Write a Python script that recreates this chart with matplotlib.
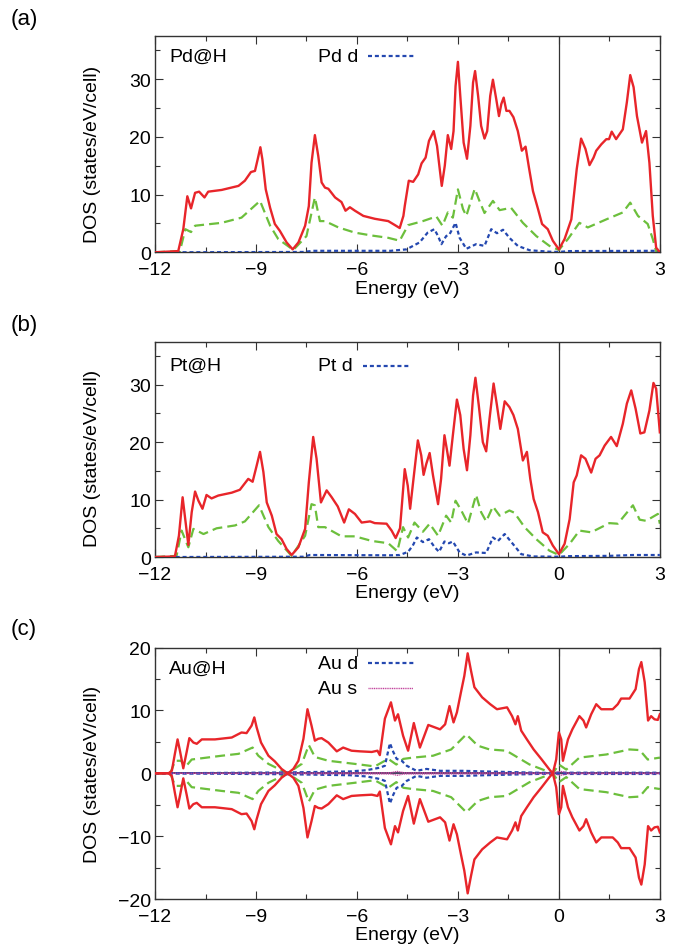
import numpy as np
import matplotlib.pyplot as plt
from matplotlib.ticker import MultipleLocator

plt.rcParams['font.family'] = ['Liberation Sans', 'DejaVu Sans']

# each array: rows of (energy eV, DOS)

# ---- (a) Pd@H ----
pd_tot = np.array([
    [-12, 0], [-11.31, 0.2], [-11.16, 4.0], [-11.04, 9.7], [-10.93, 7.6], [-10.81, 10.3],
    [-10.69, 10.5], [-10.53, 9.5], [-10.42, 10.5], [-10.02, 10.8], [-9.52, 11.5], [-9.33, 12.4],
    [-9.15, 13.9], [-9.03, 14.1], [-8.95, 16.1], [-8.87, 18.2], [-8.81, 16.1], [-8.71, 10.9],
    [-8.58, 7.7], [-8.44, 4.9], [-8.29, 3.7], [-8.09, 1.7], [-7.91, 0.5], [-7.74, 1.7],
    [-7.54, 4.6], [-7.43, 8.0], [-7.35, 15.5], [-7.25, 20.3], [-7.15, 16.7], [-7.05, 12.1],
    [-6.95, 11.2], [-6.85, 11.0], [-6.65, 9.5], [-6.46, 8.7], [-6.34, 7.2], [-6.21, 7.8],
    [-6.06, 7.2], [-5.81, 6.3], [-5.47, 5.8], [-5.07, 5.4], [-4.87, 4.7], [-4.73, 4.2],
    [-4.62, 6.3], [-4.58, 8.0], [-4.46, 12.4], [-4.33, 12.2], [-4.18, 13.5], [-4.08, 15.4],
    [-3.96, 16.4], [-3.86, 19.3], [-3.72, 21.0], [-3.62, 18.4], [-3.54, 14.4], [-3.48, 11.5],
    [-3.39, 15.0], [-3.30, 20.3], [-3.20, 17.9], [-3.13, 21.0], [-3.07, 28.8], [-3.0, 33.0],
    [-2.93, 27.1], [-2.83, 19.0], [-2.73, 16.2], [-2.63, 21.9], [-2.55, 29.4], [-2.49, 31.4],
    [-2.40, 27.1], [-2.31, 21.9], [-2.21, 19.7], [-2.13, 21.0], [-2.04, 27.1], [-1.96, 29.9],
    [-1.86, 26.5], [-1.78, 23.6], [-1.71, 25.7], [-1.64, 26.8], [-1.56, 24.5], [-1.47, 24.5],
    [-1.35, 23.4], [-1.22, 21.0], [-1.10, 17.6], [-0.99, 18.3], [-0.89, 14.7], [-0.77, 10.6],
    [-0.62, 7.5], [-0.50, 4.9], [-0.33, 4.0], [-0.18, 2.0], [0.0, 0.5], [0.17, 2.3],
    [0.37, 5.7], [0.53, 14.4], [0.66, 19.7], [0.79, 17.9], [0.91, 15.1], [1.03, 16.4],
    [1.11, 17.6], [1.26, 18.7], [1.41, 19.6], [1.49, 19.6], [1.57, 20.9], [1.70, 19.6],
    [1.90, 21.3], [2.02, 26.0], [2.12, 30.7], [2.22, 28.6], [2.32, 23.6], [2.47, 19.0],
    [2.59, 21.0], [2.69, 15.5], [2.79, 6.3], [2.89, 0.8], [3.0, 0]])

pd_h = np.array([
    [-12, 0], [-11.26, 0.2], [-11.1, 4.0], [-10.93, 3.5], [-10.81, 4.6], [-10.02, 5.1],
    [-9.43, 6.0], [-8.88, 8.9], [-8.58, 4.6], [-8.34, 2.3], [-7.89, 0.4], [-7.5, 2.8],
    [-7.25, 9.5], [-7.10, 5.4], [-6.95, 5.4], [-6.55, 4.3], [-6.06, 3.4], [-5.56, 2.9],
    [-5.07, 2.5], [-4.73, 2.0], [-4.48, 4.7], [-4.04, 5.4], [-3.64, 6.2], [-3.46, 4.6],
    [-3.30, 6.9], [-3.15, 6.0], [-3.0, 10.9], [-2.85, 7.5], [-2.75, 6.3], [-2.50, 11.0],
    [-2.36, 8.9], [-2.21, 6.8], [-1.96, 8.9], [-1.76, 7.3], [-1.42, 7.7], [-1.07, 5.1],
    [-0.67, 2.8], [-0.28, 1.1], [0.0, 0.4], [0.27, 2.3], [0.61, 5.1], [0.86, 4.3],
    [1.41, 5.7], [1.90, 6.9], [2.12, 8.6], [2.35, 6.3], [2.64, 4.9], [2.79, 2.3],
    [2.89, 0.2], [3.0, 0]])

pd_d = np.array([
    [-12, 0], [-11.3, 0], [-7.6, 0.05], [-7.3, 0.25], [-5.0, 0.25], [-4.53, 0.5],
    [-4.14, 1.7], [-3.90, 3.4], [-3.70, 4.0], [-3.59, 2.8], [-3.49, 1.4], [-3.35, 2.8],
    [-3.25, 3.1], [-3.07, 5.1], [-2.95, 2.5], [-2.75, 0.6], [-2.46, 1.4], [-2.21, 1.1],
    [-2.01, 4.0], [-1.84, 3.3], [-1.66, 3.9], [-1.47, 2.5], [-1.22, 1.1], [-0.87, 0.35],
    [-0.3, 0.1], [0.0, 0.05], [0.3, 0.2], [2.9, 0.25], [3.0, 0.1]])

# ---- (b) Pt@H ----
pt_tot = np.array([
    [-12, 0], [-11.41, 0.1], [-11.29, 3.7], [-11.18, 10.4], [-11.09, 6.0], [-11.01, 2.1],
    [-10.91, 7.8], [-10.81, 11.4], [-10.71, 9.8], [-10.59, 8.4], [-10.47, 10.8], [-10.32, 10.2],
    [-10.12, 10.7], [-9.72, 11.2], [-9.48, 11.7], [-9.23, 13.6], [-9.10, 13.1], [-8.98, 15.9],
    [-8.88, 18.3], [-8.78, 14.8], [-8.68, 9.5], [-8.53, 7.2], [-8.39, 4.0], [-8.24, 3.1],
    [-8.09, 1.4], [-7.94, 0.35], [-7.74, 1.7], [-7.54, 4.9], [-7.43, 13.0], [-7.30, 20.9],
    [-7.20, 17.1], [-7.07, 9.5], [-6.90, 11.6], [-6.75, 10.4], [-6.57, 8.8], [-6.38, 6.0],
    [-6.24, 8.3], [-6.06, 7.5], [-5.86, 6.0], [-5.61, 6.2], [-5.47, 5.9], [-5.12, 5.8],
    [-4.97, 4.6], [-4.85, 3.3], [-4.72, 5.0], [-4.58, 15.3], [-4.49, 12.4], [-4.42, 8.4],
    [-4.32, 13.6], [-4.19, 20.3], [-4.09, 17.7], [-4.02, 14.3], [-3.94, 16.2], [-3.84, 18.1],
    [-3.74, 14.2], [-3.59, 9.2], [-3.50, 13.6], [-3.40, 21.2], [-3.33, 18.8], [-3.25, 15.9],
    [-3.15, 21.2], [-3.03, 27.4], [-2.93, 24.7], [-2.83, 18.8], [-2.73, 15.1], [-2.63, 21.2],
    [-2.55, 28.1], [-2.48, 31.2], [-2.38, 26.4], [-2.26, 20.0], [-2.16, 18.4], [-2.06, 24.1],
    [-1.94, 30.2], [-1.84, 26.4], [-1.74, 22.3], [-1.61, 27.1], [-1.47, 26.1], [-1.35, 24.7],
    [-1.22, 22.3], [-1.07, 16.8], [-0.95, 18.3], [-0.85, 13.6], [-0.75, 10.1], [-0.62, 7.8],
    [-0.48, 4.3], [-0.33, 3.7], [-0.18, 2.0], [0.0, 0.5], [0.17, 2.3], [0.32, 6.6],
    [0.44, 13.0], [0.53, 14.2], [0.66, 17.7], [0.79, 17.1], [0.96, 14.7], [1.09, 17.1],
    [1.21, 17.7], [1.36, 19.4], [1.55, 20.9], [1.72, 19.3], [1.90, 23.2], [2.02, 26.7],
    [2.15, 29.0], [2.28, 25.8], [2.42, 21.5], [2.54, 21.7], [2.69, 25.5], [2.81, 30.3],
    [2.89, 29.3], [3.0, 21.7]])

pt_h = np.array([
    [-12, 0], [-11.36, 0.2], [-11.21, 4.6], [-11.01, 1.7], [-10.86, 4.9], [-10.56, 4.0],
    [-10.17, 5.0], [-9.62, 5.5], [-9.33, 6.2], [-8.91, 9.0], [-8.63, 5.2], [-8.34, 2.8],
    [-7.94, 0.2], [-7.54, 3.7], [-7.35, 9.2], [-7.25, 9.0], [-7.15, 5.2], [-6.95, 5.2],
    [-6.46, 3.6], [-6.06, 3.6], [-5.56, 2.8], [-5.07, 2.4], [-4.80, 1.0], [-4.63, 5.2],
    [-4.48, 3.4], [-4.29, 6.0], [-4.04, 4.4], [-3.84, 5.8], [-3.59, 3.7], [-3.35, 7.2],
    [-3.20, 6.0], [-3.07, 9.8], [-2.90, 8.1], [-2.70, 5.8], [-2.46, 10.8], [-2.31, 7.8],
    [-2.16, 6.2], [-1.96, 8.8], [-1.76, 7.2], [-1.47, 8.1], [-1.32, 7.7], [-1.02, 5.2],
    [-0.67, 3.1], [-0.28, 1.1], [0.0, 0.35], [0.32, 2.3], [0.61, 4.6], [0.96, 4.3],
    [1.50, 5.9], [1.75, 5.8], [2.20, 9.0], [2.40, 6.5], [2.59, 6.3], [2.94, 7.5], [3.0, 5.8]])

pt_d = np.array([
    [-12, 0], [-11.3, 0], [-7.6, 0.05], [-7.4, 0.35], [-5.0, 0.3], [-4.73, 0.35],
    [-4.48, 0.9], [-4.34, 2.0], [-4.22, 3.4], [-4.04, 2.6], [-3.86, 3.1], [-3.69, 1.7],
    [-3.56, 0.9], [-3.40, 2.7], [-3.27, 2.4], [-3.15, 2.7], [-2.95, 0.8], [-2.75, 0.25],
    [-2.46, 0.8], [-2.16, 0.7], [-1.96, 3.4], [-1.81, 2.8], [-1.61, 4.0], [-1.37, 2.3],
    [-1.12, 0.5], [-0.77, 0.1], [0.0, 0.05], [0.3, 0.15], [1.5, 0.2], [2.2, 0.35], [3.0, 0.35]])

# ---- (c) Au@H, spin up (spin down mirrors it) ----
au_tot = np.array([
    [-12, 0], [-11.6, 0], [-11.5, 0.4], [-11.41, 3.1], [-11.33, 5.4], [-11.26, 3.6],
    [-11.16, 0.8], [-11.06, 3.4], [-10.98, 5.6], [-10.86, 4.9], [-10.76, 4.7], [-10.61, 5.4],
    [-10.22, 5.4], [-9.72, 5.7], [-9.43, 6.5], [-9.28, 6.4], [-9.13, 7.6], [-9.05, 8.9],
    [-8.98, 7.3], [-8.85, 4.9], [-8.63, 2.8], [-8.44, 1.9], [-8.24, 0.7], [-8.06, 0],
    [-7.89, 0.7], [-7.74, 2.0], [-7.59, 5.5], [-7.47, 10.2], [-7.35, 7.6], [-7.25, 5.2],
    [-7.15, 5.5], [-7.05, 5.6], [-6.85, 4.9], [-6.60, 3.5], [-6.41, 4.1], [-6.16, 3.6],
    [-5.91, 3.5], [-5.56, 3.4], [-5.39, 3.6], [-5.32, 2.9], [-5.17, 8.7], [-4.99, 11.3],
    [-4.87, 8.4], [-4.78, 9.4], [-4.63, 6.0], [-4.48, 3.6], [-4.31, 8.0], [-4.13, 4.1],
    [-3.88, 7.7], [-3.53, 7.0], [-3.38, 7.8], [-3.25, 10.7], [-3.13, 8.1], [-3.03, 9.7],
    [-2.91, 12.9], [-2.81, 15.5], [-2.71, 19.1], [-2.61, 16.3], [-2.51, 13.7], [-2.28, 12.1],
    [-2.04, 11.0], [-1.84, 10.2], [-1.54, 10.5], [-1.39, 9.1], [-1.29, 7.8], [-1.22, 9.1],
    [-1.12, 6.8], [-0.95, 5.4], [-0.75, 3.8], [-0.51, 2.2], [-0.28, 0.6], [-0.18, 0],
    [-0.08, 2.2], [0.0, 6.5], [0.07, 5.4], [0.12, 2.0], [0.27, 5.4], [0.40, 7.0],
    [0.61, 9.1], [0.73, 8.4], [0.81, 7.3], [0.96, 9.4], [1.11, 11.0], [1.26, 10.2],
    [1.60, 10.2], [1.75, 11.0], [1.85, 11.9], [2.10, 11.9], [2.28, 13.4], [2.38, 16.6],
    [2.45, 17.7], [2.55, 14.5], [2.65, 8.4], [2.74, 9.1], [2.84, 8.6], [2.94, 8.5], [3.0, 9.4]])

au_h = np.array([
    [-12, 0], [-11.55, 0], [-11.4, 2.0], [-11.23, 2.0], [-11.1, 1.0], [-10.91, 2.2],
    [-10.02, 2.8], [-9.52, 3.1], [-9.10, 4.1], [-8.93, 2.8], [-8.63, 1.5], [-8.06, 0],
    [-7.64, 1.5], [-7.43, 4.5], [-7.25, 2.6], [-6.85, 2.0], [-6.06, 1.5], [-5.47, 1.1],
    [-5.07, 2.3], [-4.83, 1.4], [-4.62, 2.3], [-4.34, 2.5], [-3.74, 2.8], [-3.20, 3.8],
    [-2.75, 6.2], [-2.41, 4.4], [-2.06, 3.8], [-1.56, 3.6], [-0.87, 1.4], [-0.38, 0.4],
    [-0.18, 0], [0.0, 1.4], [0.22, 0.6], [0.61, 2.5], [1.41, 3.0], [2.10, 3.8],
    [2.40, 3.7], [2.64, 2.2], [3.0, 2.5]])

au_d = np.array([
    [-12, 0], [-11.6, 0], [-8.0, 0.15], [-6.21, 0.3], [-5.71, 0.5], [-5.32, 0.9],
    [-5.17, 1.2], [-5.02, 4.8], [-4.92, 3.4], [-4.82, 2.3], [-4.67, 2.0], [-4.52, 1.2],
    [-4.23, 0.4], [-3.93, 0.7], [-3.53, 0.4], [-2.84, 0.4], [-2.2, 0.3], [-0.27, 0.05],
    [0.0, 0.1], [3.0, 0.1]])

au_s = np.array([
    [-12, 0], [-11.6, 0], [-8.0, 0.05], [-5.0, 0.1], [-4.8, 0.3], [-4.6, 0.1],
    [-2.0, 0.08], [-0.2, 0.05], [0.05, 0.3], [0.3, 0.05], [3.0, 0.05]])

RED = '#e8252a'
GREEN = '#6cbf3c'
BLUE = '#2448b0'
PINK = '#c0409a'
DASH_G = (0, (4.5, 2.3))
DASH_B = (0, (1.8, 1.3))
DOT_S = (0, (0.8, 0.5))
FS = 14


def style_axes(ax, ylim, ymajor, ylab_y):
    ax.set_xlim(-12, 3)
    ax.set_ylim(*ylim)
    ax.xaxis.set_major_locator(MultipleLocator(3))
    ax.xaxis.set_minor_locator(MultipleLocator(1.5))
    ax.yaxis.set_major_locator(MultipleLocator(ymajor))
    ax.yaxis.set_minor_locator(MultipleLocator(ymajor / 2))
    ax.tick_params(which='both', direction='in', top=True, right=True,
                   labelsize=FS, color='#333333')
    ax.tick_params(axis='x', pad=6.5)
    ax.tick_params(axis='y', pad=3)
    ax.tick_params(which='major', length=6, width=0.8)
    ax.tick_params(which='minor', length=3.5, width=0.8)
    for sp in ax.spines.values():
        sp.set_linewidth(1.0)
        sp.set_color('#333333')
    ax.axvline(0, color='#333333', lw=0.9, zorder=1)
    ax.set_xlabel('Energy (eV)', fontsize=FS, labelpad=1)
    ax.set_ylabel('DOS (states/eV/cell)', fontsize=FS)
    ax.yaxis.set_label_coords(-0.107, ylab_y)


def legend_entry(ax, x, y, label, x0, x1, color, ls, lw=1.6):
    ax.text(x, y, label, fontsize=FS, va='center')
    ax.plot([x0, x1], [y, y], color=color, lw=lw, ls=ls)


fig = plt.figure(figsize=(6.74, 9.45), dpi=100)
ax_a = fig.add_axes([0.230, 0.732, 0.749, 0.229])
ax_b = fig.add_axes([0.230, 0.4095, 0.749, 0.228])
ax_c = fig.add_axes([0.230, 0.0476, 0.749, 0.266])

# (a)
ax_a.plot(pd_h[:, 0], pd_h[:, 1], color=GREEN, lw=1.6, ls=DASH_G, zorder=2)
ax_a.plot(pd_d[:, 0], pd_d[:, 1], color=BLUE, lw=1.6, ls=DASH_B, zorder=3)
ax_a.plot(pd_tot[:, 0], pd_tot[:, 1], color=RED, lw=1.7, zorder=4)
style_axes(ax_a, (0, 37.5), 10, 0.458)
ax_a.text(-11.58, 34.0, 'Pd@H', fontsize=FS, va='center')
legend_entry(ax_a, -7.16, 34.0, 'Pd d', -5.67, -4.28, BLUE, DASH_B)

# (b)
ax_b.plot(pt_h[:, 0], pt_h[:, 1], color=GREEN, lw=1.6, ls=DASH_G, zorder=2)
ax_b.plot(pt_d[:, 0], pt_d[:, 1], color=BLUE, lw=1.6, ls=DASH_B, zorder=3)
ax_b.plot(pt_tot[:, 0], pt_tot[:, 1], color=RED, lw=1.7, zorder=4)
style_axes(ax_b, (0, 37.5), 10, 0.46)
ax_b.text(-11.58, 33.3, 'Pt@H', fontsize=FS, va='center')
legend_entry(ax_b, -7.16, 33.3, 'Pt d', -5.82, -4.43, BLUE, DASH_B)

# (c) spin up above zero, spin down below
ax_c.axhline(0, color='#222244', lw=1.2, zorder=1)
for sign in (1, -1):
    ax_c.plot(au_h[:, 0], sign * au_h[:, 1], color=GREEN, lw=1.6, ls=DASH_G, zorder=2)
    ax_c.plot(au_d[:, 0], sign * au_d[:, 1], color=BLUE, lw=1.6, ls=DASH_B, zorder=3)
    ax_c.plot(au_s[:, 0], sign * au_s[:, 1], color=PINK, lw=1.0, ls=DOT_S, zorder=3)
    ax_c.plot(au_tot[:, 0], sign * au_tot[:, 1], color=RED, lw=1.7, zorder=4)
style_axes(ax_c, (-20, 20), 10, 0.5)
ax_c.text(-11.58, 16.7, 'Au@H', fontsize=FS, va='center')
legend_entry(ax_c, -7.16, 17.5, 'Au d', -5.67, -4.28, BLUE, DASH_B)
legend_entry(ax_c, -7.16, 13.5, 'Au s', -5.67, -4.33, PINK, DOT_S, lw=1.0)

for lab, ypix in (('(a)', 20), ('(b)', 325), ('(c)', 630)):
    fig.text(11 / 674, 1 - ypix / 945, lab, fontsize=16, va='center', ha='left')

fig.savefig('out.png', dpi=100)
